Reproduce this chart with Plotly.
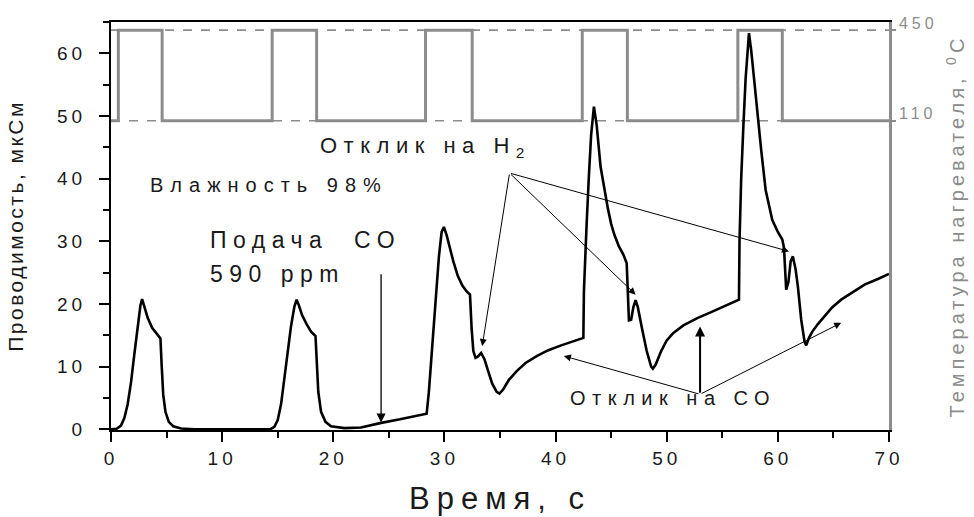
import plotly.graph_objects as go

# Conductivity response (time, s ; conductivity, мкСм)
time_s = [0, 0.5, 0.9, 1.2, 1.5, 1.8, 2.1, 2.4, 2.65, 2.8, 3.0, 3.3, 3.7, 4.1, 4.45, 4.55, 4.7, 4.9, 5.2, 5.6, 6.3, 7.5, 14.3,
          14.7, 15.0, 15.3, 15.6, 15.9, 16.2, 16.5, 16.7, 16.9, 17.2, 17.6, 18.0, 18.4, 18.5, 18.65, 18.9, 19.3, 19.8, 21.0,
          22.5, 24.2, 26.0, 28.4,
          28.6, 28.9, 29.2, 29.5, 29.75, 29.95, 30.2, 30.5, 30.8, 31.2, 31.6, 32.0, 32.3, 32.45, 32.6, 32.8, 33.0, 33.3, 33.6,
          33.9, 34.3, 34.7, 34.95, 35.3, 35.8, 36.5, 37.3, 38.3, 39.3, 40.5, 41.5, 42.5,
          42.55, 42.65, 42.8, 43.0, 43.2, 43.45, 43.7, 44.05, 44.4, 44.7, 45.0, 45.3, 45.7, 46.1, 46.4, 46.5, 46.6, 46.8, 47.0,
          47.2, 47.4, 47.8, 48.2, 48.6, 48.75, 49.0, 49.5, 50.0, 50.6, 51.5, 52.8, 54.0, 55.3, 56.5,
          56.55, 56.7, 56.9, 57.1, 57.4, 57.6, 57.9, 58.2, 58.5, 58.9, 59.2, 59.5, 60.0, 60.4, 60.55, 60.65, 60.75, 60.95,
          61.15, 61.35, 61.6, 61.8, 62.1, 62.4, 62.55, 62.8, 63.1, 63.6, 64.2, 64.9, 65.7, 66.7, 67.8, 69.0, 70.0]
conductivity = [0, 0.1, 0.6, 1.8, 4.0, 7.5, 12.0, 16.5, 19.8, 20.8, 19.6, 17.8, 16.2, 15.2, 14.5, 10.5, 5.5, 2.8, 1.2, 0.5, 0.15, 0.0, 0.0,
                0.4, 1.5, 4.0, 8.0, 12.5, 16.5, 19.6, 20.7, 19.8, 18.2, 16.8, 15.6, 14.9, 11.0, 6.0, 2.8, 1.2, 0.5, 0.2,
                0.3, 1.0, 1.6, 2.5,
                6.0, 13.0, 20.5, 27.5, 31.5, 32.3, 31.0, 28.8, 26.8, 24.5, 23.0, 22.0, 21.5, 16.0, 12.5, 11.4, 11.6, 12.2, 11.2,
                9.5, 7.3, 6.0, 5.7, 6.4, 7.9, 9.3, 10.6, 11.7, 12.6, 13.4, 14.0, 14.6,
                22.0, 27.0, 33.0, 40.5, 47.0, 51.5, 48.5, 41.9, 38.0, 35.3, 32.8, 31.0, 29.2, 27.9, 26.5, 20.0, 17.4, 17.5, 19.5,
                20.6, 19.5, 15.9, 12.5, 10.0, 9.7, 10.3, 12.5, 14.2, 15.4, 16.6, 17.8, 18.7, 19.7, 20.7,
                30.0, 40.0, 48.5, 56.0, 63.2, 60.5, 55.2, 49.5, 44.6, 38.2, 35.5, 33.4, 31.5, 30.3, 29.0, 24.0, 22.3, 23.5,
                26.8, 27.6, 25.5, 22.8, 17.5, 14.0, 13.4, 14.6, 15.6, 16.8, 18.0, 19.5, 20.7, 21.9, 23.1, 24.0, 24.8]

# Heater temperature program (°C)
heater_on_start = [0.66, 14.5, 28.3, 42.4, 56.4]
heater_on_end = [4.6, 18.5, 32.5, 46.46, 60.4]
t_low, t_high = 110, 450
t_end = 70

# axis tick values
x_ticks = [0, 10, 20, 30, 40, 50, 60, 70]
y_ticks = [0, 10, 20, 30, 40, 50, 60]

heater_x = [0]
heater_t = [t_low]
for s, e in zip(heater_on_start, heater_on_end):
    heater_x += [s, e]
    heater_t += [t_high, t_low]
heater_x.append(t_end)
heater_t.append(t_low)

FONT = "Liberation Sans, Arial, sans-serif"
GRAY = "#8c8c8c"
DARK = "#1a1a1a"


def spaced(s, px):
    return f"<span style='letter-spacing:{px}px'>{s}</span>"


fig = go.Figure()
fig.add_trace(go.Scatter(x=heater_x, y=heater_t, yaxis="y2", mode="lines",
                         line=dict(color=GRAY, width=3, shape="hv"), hoverinfo="skip", showlegend=False))
fig.add_trace(go.Scatter(x=time_s, y=conductivity, mode="lines",
                         line=dict(color="black", width=2.6), showlegend=False))

for tv in (t_low, t_high):
    fig.add_shape(type="line", xref="paper", x0=0, x1=1, yref="y2", y0=tv, y1=tv,
                  line=dict(color=GRAY, width=1.6, dash="dash"), layer="below")

ann = []


def text(x, y, s, size, sp):
    ann.append(dict(x=x, y=y, xref="x", yref="y", text=spaced(s, sp), showarrow=False,
                    xanchor="left", yanchor="middle",
                    font=dict(family=FONT, size=size, color=DARK)))


def arrow(x0, y0, x1, y1, w=1.0):
    ann.append(dict(x=x1, y=y1, ax=x0, ay=y0, xref="x", yref="y", axref="x", ayref="y", text="",
                    showarrow=True, arrowhead=2, arrowsize=1.4 if w < 1.5 else 1.0,
                    arrowwidth=w, arrowcolor="black"))


text(3.3, 39.0, "Влажность 98%", 20, 7)
text(18.6, 45.0, "Отклик на Н<sub>2</sub>", 22, 6.5)
text(8.7, 30.2, "Подача  СО", 23, 6.5)
text(8.7, 24.8, "590 ppm", 23, 6.5)
text(41.1, 5.0, "Отклик на СО", 20, 6.5)

arrow(24.3, 25.0, 24.3, 1.1, 1.3)
for hx, hy in [(33.4, 13.3), (47.2, 21.5), (61.0, 28.4)]:
    arrow(35.86, 40.9, hx, hy, 1.0)
arrow(53.0, 5.6, 40.75, 11.7, 1.0)
arrow(53.0, 5.6, 53.0, 16.4, 2.0)
arrow(53.0, 5.6, 65.7, 17.0, 1.0)

fig.update_layout(
    width=974, height=517,
    margin=dict(l=111, r=85, t=22, b=87),
    plot_bgcolor="white", paper_bgcolor="white",
    font=dict(family=FONT, color=DARK),
    annotations=ann,
    xaxis=dict(range=[0, 70], tickvals=x_ticks, ticktext=[spaced(v, 4) for v in x_ticks],
               ticks="outside", ticklen=10, tickwidth=2, tickcolor="black", automargin=False,
               minor=dict(dtick=5, ticks="outside", ticklen=6, tickwidth=2, tickcolor="black"),
               showline=True, linecolor="black", linewidth=2, mirror=True, showgrid=False, zeroline=False,
               tickfont=dict(size=19, color=DARK),
               title=dict(text=spaced("Время, с", 7), font=dict(size=31, color=DARK), standoff=20)),
    yaxis=dict(range=[-0.1, 65], tickvals=y_ticks, ticktext=[spaced(v, 4) for v in y_ticks],
               ticks="outside", ticklen=10, tickwidth=2, tickcolor="black", automargin=False,
               minor=dict(dtick=5, ticks="outside", ticklen=6, tickwidth=2, tickcolor="black"),
               showline=True, linecolor="black", linewidth=2, showgrid=False, zeroline=False,
               ticklabelstandoff=9,
               tickfont=dict(size=19, color=DARK),
               title=dict(text=spaced("Проводимость, мкСм", 2.5), font=dict(size=21, color=DARK), standoff=28)),
    yaxis2=dict(overlaying="y", side="right", range=[-1050, 480.6], tickvals=[t_low, t_high],
                ticktext=[spaced(v, 4) for v in (t_low, t_high)], automargin=False,
                ticks="outside", ticklen=4, tickwidth=1.6, tickcolor=GRAY,
                showline=True, linecolor=GRAY, linewidth=2.5, showgrid=False, zeroline=False,
                ticklabelshift=-7, tickfont=dict(size=16, color=GRAY),
                title=dict(text=spaced("Температура нагревателя, <sup>0</sup>C", 4),
                           font=dict(size=20, color=GRAY), standoff=14)),
)

fig.write_html("out.html")
